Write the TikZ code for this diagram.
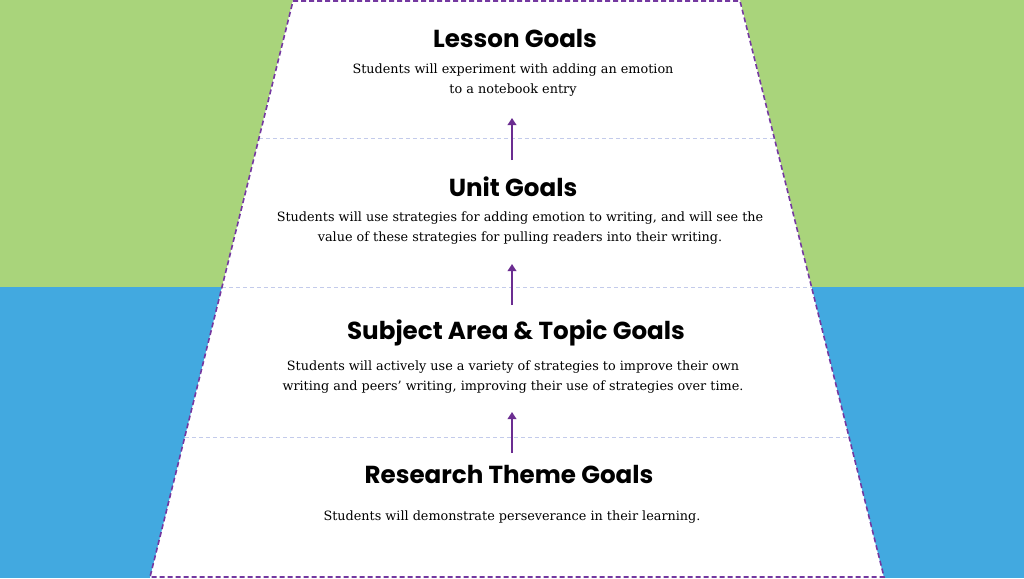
\documentclass[tikz,border=0pt]{standalone}
\usepackage{fontspec}
\setmainfont{DejaVu Serif}
\newfontfamily\titlefont{Poppins}
\usetikzlibrary{calc,arrows.meta}
\definecolor{bggreen}{HTML}{A9D47B}
\definecolor{bgblue}{HTML}{42A9E0}
\definecolor{edgepurple}{HTML}{7438A0}
\definecolor{arrowpurple}{HTML}{6B2D91}
\definecolor{divline}{HTML}{C3CBEB}
\tikzset{
  title/.style={font=\titlefont\bfseries\fontsize{24.6}{28}\selectfont, text=black, inner sep=0pt, anchor=center},
  body/.style={font=\fontsize{12.8}{19.5}\selectfont, text=black, align=center, inner sep=0pt, anchor=center},
  divider/.style={draw=divline, dash pattern=on 4pt off 3pt, line width=0.9pt},
  uparrow/.style={draw=arrowpurple, line width=2.6pt, -{Triangle[length=7pt,width=8.5pt]}},
}
\begin{document}
\begin{tikzpicture}[x=1pt,y=-1pt]
\useasboundingbox (0,0) rectangle (1024,578);
\fill[bggreen] (0,0) rectangle (1024,287);
\fill[bgblue] (0,287) rectangle (1024,578);
\coordinate (TL) at (293,0);
\coordinate (TR) at (740,0);
\coordinate (BR) at (884,578);
\coordinate (BL) at (150,578);
\fill[white] (TL) -- (TR) -- (BR) -- (BL) -- cycle;
% dividers
\foreach \yy/\nm in {138/d1,287/d2,437/d3}{
  \coordinate (\nm l) at ($(TL)!\yy/578!(BL)$);
  \coordinate (\nm r) at ($(TR)!\yy/578!(BR)$);
  \draw[divider] (\nm l) -- (\nm r);
}
\draw[edgepurple, line width=1.6pt, dash pattern=on 5pt off 3pt] ($(TL)+(0,1)$) -- ($(TR)+(0,1)$) -- ($(BR)+(0,-1)$) -- ($(BL)+(0,-1)$) -- cycle;
% texts
\node[title] (t1) at (515,38) {Lesson Goals};
\node[body] (b1) at (513,80) {Students will experiment with adding an emotion\\to a notebook entry};
\node[title] (t2) at (513,187) {Unit Goals};
\node[body] (b2) at (520,228) {Students will use strategies for adding emotion to writing, and will see the\\value of these strategies for pulling readers into their writing.};
\node[title] (t3) at (516,333) {Subject Area \& Topic Goals};
\node[body] (b3) at (513,377) {Students will actively use a variety of strategies to improve their own\\writing and peers’ writing, improving their use of strategies over time.};
\node[title] (t4) at (509,474) {Research Theme Goals};
\node[body] (b4) at (512,517) {Students will demonstrate perseverance in their learning.};
% arrows
\coordinate (a1s) at (512,160); \coordinate (a1e) at (512,118);
\coordinate (a2s) at (512,305); \coordinate (a2e) at (512,264);
\coordinate (a3s) at (512,453); \coordinate (a3e) at (512,412);
\draw[uparrow] (a1s) -- (a1e);
\draw[uparrow] (a2s) -- (a2e);
\draw[uparrow] (a3s) -- (a3e);
\end{tikzpicture}
\end{document}
